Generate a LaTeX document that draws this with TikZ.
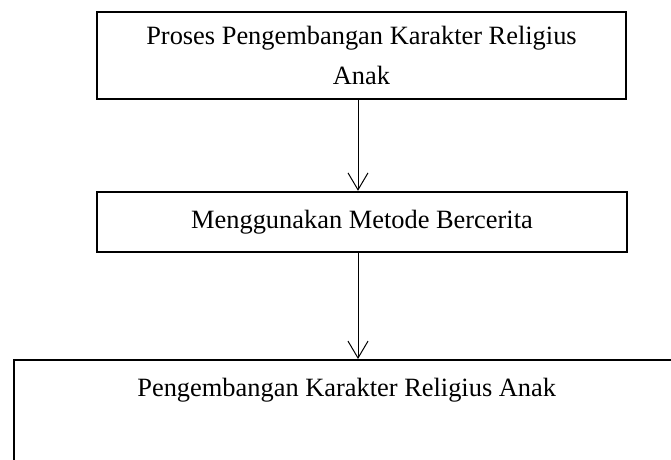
\documentclass[tikz,border=0pt]{standalone}
\usepackage{fontspec}
\setmainfont{Liberation Serif}
\usetikzlibrary{arrows.meta}

\newcommand{\piksel}{0.4545pt}
\newcommand{\teks}{\fontsize{12pt}{18.2pt}\selectfont}

\tikzset{
  kotak/.style={draw, line width=1.1pt, inner sep=0pt, align=center, font=\teks},
  panah/.style={-{Straight Barb[length=7.7pt,width=9.1pt]}, line width=0.45pt}
}

\begin{document}
\begin{tikzpicture}[x=\piksel,y=-\piksel]
        % Langkah 1: Tetapkan ukuran gambar
        \useasboundingbox (0,0) rectangle (671,459);
        \clip (0,0) rectangle (671,459);

        % Langkah 2: Kotak proses di atas
        \node[kotak, minimum width={529*\piksel}, minimum height={87*\piksel}]
          (proses) at (361.5,55.5) {Proses Pengembangan Karakter Religius\\Anak};

        % Langkah 3: Kotak metode di tengah
        \node[kotak, minimum width={530*\piksel}, minimum height={60*\piksel}]
          (metode) at (362,222) {Menggunakan Metode Bercerita};

        % Langkah 4: Kotak hasil di bawah (terpotong di tepi)
        \node[kotak, anchor=north west, minimum width={665*\piksel},
          text height={36*\piksel}, text depth={150*\piksel}]
          (hasil) at (13,359) {Pengembangan Karakter Religius Anak};

        % Langkah 5: Panah dari kotak ke kotak
        \coordinate (garis) at (358,0);
        \draw[panah] (proses.south -| garis) -- (metode.north -| garis);
        \draw[panah] (metode.south -| garis) -- (hasil.north -| garis);
\end{tikzpicture}
\end{document}
